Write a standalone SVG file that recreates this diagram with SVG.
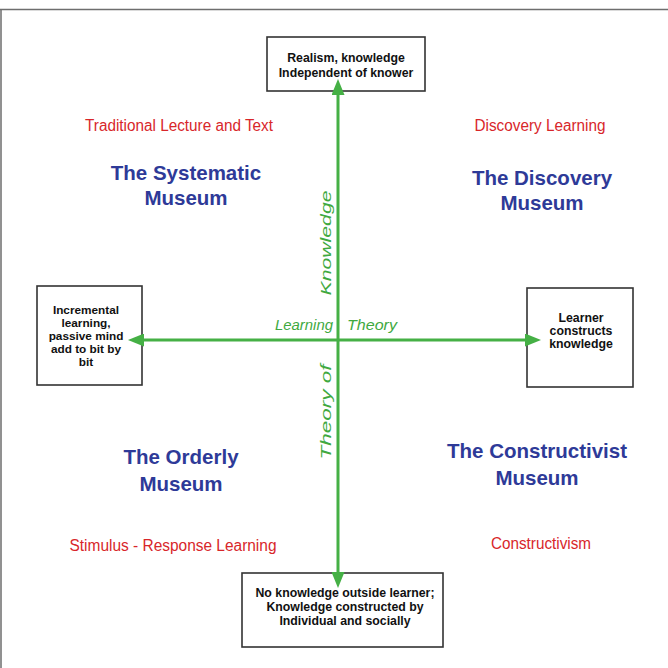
<svg xmlns="http://www.w3.org/2000/svg" width="668" height="668" viewBox="0 0 668 668">
  <style>
    .frame { stroke: #6e6e6e; stroke-width: 1.5; fill: none; }
    .box { fill: #ffffff; stroke: #333333; stroke-width: 1.6; }
    .boxtext { font-family: "Liberation Sans", Arial, sans-serif; font-weight: bold; font-size: 12.3px; fill: #111111; text-anchor: middle; }
    .small { font-size: 11.8px; }
    .approach { font-family: "Liberation Sans", Arial, sans-serif; font-size: 16px; fill: #d8262a; text-anchor: middle; }
    .museum { font-family: "Liberation Sans", Arial, sans-serif; font-weight: bold; font-size: 20.5px; fill: #2e3a98; text-anchor: middle; }
    .axislabel { font-family: "Liberation Sans", Arial, sans-serif; font-style: italic; font-size: 15.5px; fill: #3fa93f; text-anchor: middle; }
    .axis { stroke: #45b045; stroke-width: 3; fill: none; }
  </style>
  <defs>
    <marker id="head" viewBox="0 0 16 13" refX="6" refY="6.5" markerWidth="16" markerHeight="13" markerUnits="userSpaceOnUse" orient="auto-start-reverse">
      <path d="M0,0 L16,6.5 L0,13 z" fill="#45b045"/>
    </marker>
  </defs>

  <rect width="668" height="668" fill="#ffffff"/>

  <!-- page frame: top and left edges -->
  <path class="frame" d="M0,9.5 H668 M1,9.5 V668"/>

  <!-- quadrant captions -->
  <g id="systematic">
    <text class="approach" x="179" y="131" textLength="188" lengthAdjust="spacingAndGlyphs">Traditional Lecture and Text</text>
    <text class="museum" x="186" y="180">The Systematic</text>
    <text class="museum" x="186" y="205">Museum</text>
  </g>
  <g id="discovery">
    <text class="approach" x="540" y="131" textLength="131" lengthAdjust="spacingAndGlyphs">Discovery Learning</text>
    <text class="museum" x="542" y="185">The Discovery</text>
    <text class="museum" x="542" y="210">Museum</text>
  </g>
  <g id="orderly">
    <text class="museum" x="181" y="464">The Orderly</text>
    <text class="museum" x="181" y="491">Museum</text>
    <text class="approach" x="173" y="551" textLength="207" lengthAdjust="spacingAndGlyphs">Stimulus - Response Learning</text>
  </g>
  <g id="constructivist">
    <text class="museum" x="537" y="458">The Constructivist</text>
    <text class="museum" x="537" y="485">Museum</text>
    <text class="approach" x="541" y="549" textLength="100" lengthAdjust="spacingAndGlyphs">Constructivism</text>
  </g>

  <!-- end-point boxes -->
  <g id="realism">
    <rect class="box" x="267" y="37" width="158" height="54"/>
    <text class="boxtext" x="346" y="62">Realism, knowledge</text>
    <text class="boxtext" x="346" y="76.5">Independent of knower</text>
  </g>
  <g id="incremental">
    <rect class="box" x="37" y="286" width="105" height="99"/>
    <text class="boxtext small" x="86" y="314">Incremental</text>
    <text class="boxtext small" x="86" y="327">learning,</text>
    <text class="boxtext small" x="86" y="340">passive mind</text>
    <text class="boxtext small" x="86" y="353">add to bit by</text>
    <text class="boxtext small" x="86" y="366">bit</text>
  </g>
  <g id="learner">
    <rect class="box" x="527" y="288" width="106" height="99"/>
    <text class="boxtext" x="581" y="322">Learner</text>
    <text class="boxtext" x="581" y="335">constructs</text>
    <text class="boxtext" x="581" y="348">knowledge</text>
  </g>
  <g id="social">
    <rect class="box" x="242" y="573" width="201" height="74"/>
    <text class="boxtext" x="345" y="597">No knowledge outside learner;</text>
    <text class="boxtext" x="345" y="611">Knowledge constructed by</text>
    <text class="boxtext" x="345" y="625">Individual and socially</text>
  </g>

  <!-- axes -->
  <g id="connectors">
    <line class="axis" x1="338" y1="89" x2="338" y2="578" marker-start="url(#head)" marker-end="url(#head)"/>
    <line class="axis" x1="138" y1="340" x2="531" y2="340" marker-start="url(#head)" marker-end="url(#head)"/>
  </g>

  <!-- axis labels -->
  <g id="axis-labels">
    <text class="axislabel" transform="translate(331,243) rotate(-90)" textLength="105" lengthAdjust="spacingAndGlyphs">Knowledge</text>
    <text class="axislabel" transform="translate(331,412) rotate(-90)" textLength="95" lengthAdjust="spacingAndGlyphs">Theory of</text>
    <text class="axislabel" x="304" y="330" textLength="58" lengthAdjust="spacingAndGlyphs">Learning</text>
    <text class="axislabel" x="372" y="330" textLength="50" lengthAdjust="spacingAndGlyphs">Theory</text>
  </g>
</svg>
